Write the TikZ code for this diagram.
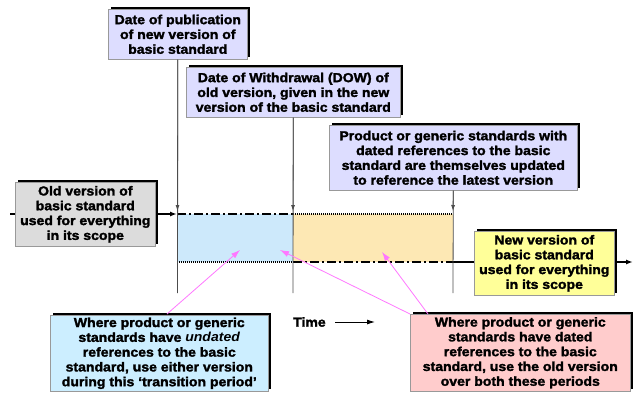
\documentclass[tikz,border=0pt]{standalone}
\usepackage{fontspec}
\setmainfont{Liberation Sans}[FakeStretch=1.08, BoldFeatures={FakeBold=2}]
\usetikzlibrary{arrows.meta}
\definecolor{lav}{HTML}{DDDDFF}
\definecolor{oldgray}{HTML}{DCDCDC}
\definecolor{newyel}{HTML}{FFFF99}
\definecolor{bluebox}{HTML}{CCEEFF}
\definecolor{pinkbox}{HTML}{FFCCCC}
\definecolor{bluearea}{HTML}{CDE9FB}
\definecolor{orarea}{HTML}{FDE8B4}
\definecolor{mag}{HTML}{FF77FF}
\tikzset{
  box/.style={draw=gray!80, line width=0.6pt, inner sep=0pt, align=center,
    anchor=north west, font=\fontsize{13}{14.8}\selectfont\bfseries},
  shadowbox/.style={fill=black},
  vline/.style={draw=black!70, line width=0.8pt},
  vtip/.style={vline, -{Latex[length=6pt,width=4pt]}},
  dashdot/.style={line width=1.6pt, dash pattern=on 9pt off 3pt on 2pt off 3pt},
  dotline/.style={line width=1.2pt, dash pattern=on 1pt off 1pt},
  magarrow/.style={draw=mag, line width=0.8pt, -{Latex[length=9pt,width=6pt]}, mag},
}
\begin{document}
\begin{tikzpicture}[x=1pt,y=-1pt]
\useasboundingbox (0,0) rectangle (633,392);
% coordinates
\coordinate (tl) at (177,214);
\coordinate (tm) at (293,214);
\coordinate (tr) at (453,214);
\coordinate (bl) at (177,262);
\coordinate (bm) at (293,262);
\coordinate (br) at (453,262);
\coordinate (start) at (10,214);
\coordinate (end) at (633,262);
% areas
\fill[bluearea] (tl) rectangle (bm);
\fill[orarea] (tm) rectangle (br);
% timelines
\draw[line width=1.4pt, -{Latex[length=7pt,width=5pt]}] (start) -- (tl);
\draw[dashdot] (tl) -- (tm);
\draw[dotline] (tm) -- (tr);
\draw[dotline] (bl) -- (bm);
\draw[dashdot] (bm) -- (br);
\draw[line width=1.4pt, -{Latex[length=7pt,width=5pt]}] (br) -- (end);
% shadows
\fill[shadowbox] (110.5,6.5) rectangle (249.5,56.5);
\fill[shadowbox] (188.5,64.5) rectangle (402.5,114.5);
\fill[shadowbox] (331.5,122.5) rectangle (579.5,187.5);
\fill[shadowbox] (17.5,179.5) rectangle (157.5,243.5);
\fill[shadowbox] (476.5,228.5) rectangle (616.5,292.5);
\fill[shadowbox] (52.5,312.5) rectangle (270.5,388.5);
\fill[shadowbox] (412.5,311.5) rectangle (632.5,388.5);
% boxes
\node[box, fill=lav, minimum width=139pt, minimum height=50pt] (b1) at (108,9)
  {Date of publication\\of new version of\\basic standard};
\node[box, fill=lav, minimum width=214pt, minimum height=50pt] (b2) at (186,67)
  {Date of Withdrawal (DOW) of\\old version, given in the new\\version of the basic standard};
\node[box, fill=lav, minimum width=248pt, minimum height=65pt] (b3) at (329,125)
  {Product or generic standards with\\dated references to the basic\\standard are themselves updated\\to reference the latest version};
% vertical lines
\coordinate (e1) at (177.5,293);
\coordinate (e2) at (293,293);
\coordinate (e3) at (453,293);
\coordinate (m1) at (177.5,211);
\coordinate (m2) at (293,211);
\coordinate (m3) at (453,211);
\draw[vline] (b1.south) -- (e1);
\draw[vline] (b2.south) -- (e2);
\draw[vline] (b3.south) -- (e3);
\draw[vtip] (b1.south) -- (m1);
\draw[vtip] (b2.south) -- (m2);
\draw[vtip] (b3.south) -- (m3);
% side boxes
\node[box, fill=oldgray, minimum width=140pt, minimum height=64pt] (old) at (15,182)
  {Old version of\\basic standard\\used for everything\\in its scope};
\node[box, fill=newyel, minimum width=140pt, minimum height=64pt] (new) at (474,231)
  {New version of\\basic standard\\used for everything\\in its scope};
\node[box, fill=bluebox, minimum width=218pt, minimum height=76pt] (und) at (50,315)
  {Where product or generic\\standards have \textit{undated}\\references to the basic\\standard, use either version\\during this ‘transition period’};
\node[box, fill=pinkbox, minimum width=220pt, minimum height=77pt] (dat) at (410,314)
  {Where product or generic\\standards have dated\\references to the basic\\standard, use the old version\\over both these periods};
% magenta arrows
\coordinate (p1) at (240,250);
\coordinate (p2) at (280,250);
\coordinate (p3) at (382,252);
\coordinate (s1) at (167,314);
\coordinate (s3) at (428,314);
\draw[magarrow] (s1) -- (p1);
\draw[magarrow] (dat.north west) -- (p2);
\draw[magarrow] (s3) -- (p3);
% time
\node[font=\fontsize{13}{14.8}\selectfont\bfseries, anchor=west, inner sep=0pt] (time) at (293,322) {Time};
\coordinate (ta) at (335,322);
\coordinate (tb) at (375,322);
\draw[line width=0.9pt, -{Latex[length=8pt,width=5pt]}] (ta) -- (tb);
\end{tikzpicture}
\end{document}
